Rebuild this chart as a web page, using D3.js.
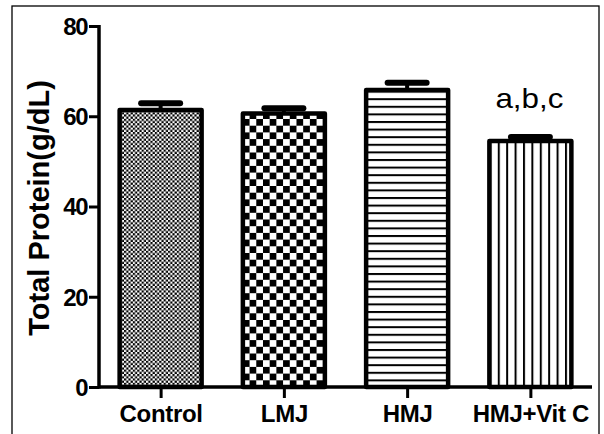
<!DOCTYPE html>
<html>
<head>
<meta charset="utf-8">
<script src="https://cdn.jsdelivr.net/npm/d3@7"></script>
<style>
  html, body { margin: 0; padding: 0; background: #fff; }
  svg { display: block; }
  text { font-family: "Liberation Sans", Arial, sans-serif; }
</style>
</head>
<body>
<svg id="chart" width="604" height="434"></svg>
<script>
const categories = ["Control", "LMJ", "HMJ", "HMJ+Vit C"];
const means = [61.4, 60.6, 65.8, 54.5];
const errors = [1.5, 1.2, 1.6, 0.9];
const annotations = ["", "", "", "a,b,c"];
const yTicks = [0, 20, 40, 60, 80];
const patterns = ["fineChecker", "bigChecker", "hLines", "vLines"];

const svg = d3.select("#chart");

// frame
svg.append("rect").attr("x", 12).attr("y", 6).attr("width", 587).attr("height", 440)
  .attr("fill", "none").attr("stroke", "#000").attr("stroke-width", 1.3);

const y = d3.scaleLinear().domain([0, 80]).range([387, 26]);
const x = d3.scalePoint().domain(categories).range([99, 592]).padding(0.5);
const barW = 82;

const defs = svg.append("defs");
function checker(id, s, x0, y0) {
  const p = defs.append("pattern").attr("id", id).attr("patternUnits", "userSpaceOnUse")
    .attr("width", 2 * s).attr("height", 2 * s).attr("x", x0).attr("y", y0);
  p.append("rect").attr("width", 2 * s).attr("height", 2 * s).attr("fill", "#fff");
  p.append("rect").attr("width", s).attr("height", s).attr("fill", "#000");
  p.append("rect").attr("x", s).attr("y", s).attr("width", s).attr("height", s).attr("fill", "#000");
}
checker("fineChecker", 2.2, x("Control") - barW / 2, 0);
checker("bigChecker", 6.7, x("LMJ") - barW / 2, y(0));
{
  const p = defs.append("pattern").attr("id", "hLines").attr("patternUnits", "userSpaceOnUse")
    .attr("width", 10).attr("height", 7.6).attr("x", 0).attr("y", y(0));
  p.append("rect").attr("width", 10).attr("height", 7.6).attr("fill", "#fff");
  p.append("rect").attr("y", 0).attr("width", 10).attr("height", 2).attr("fill", "#000");
}
{
  const p = defs.append("pattern").attr("id", "vLines").attr("patternUnits", "userSpaceOnUse")
    .attr("width", 8.4).attr("height", 10).attr("x", x("HMJ+Vit C") - barW / 2).attr("y", 0);
  p.append("rect").attr("width", 8.4).attr("height", 10).attr("fill", "#fff");
  p.append("rect").attr("x", 0).attr("width", 2).attr("height", 10).attr("fill", "#000");
}

const g = svg.append("g");

// error bars (behind bars)
categories.forEach((c, i) => {
  const cx = x(c);
  g.append("line").attr("x1", cx).attr("x2", cx)
    .attr("y1", y(means[i])).attr("y2", y(means[i] + errors[i]))
    .attr("stroke", "#000").attr("stroke-width", 4);
  g.append("line").attr("x1", cx - 19.5).attr("x2", cx + 19.5)
    .attr("y1", y(means[i] + errors[i])).attr("y2", y(means[i] + errors[i]))
    .attr("stroke", "#000").attr("stroke-width", 6).attr("stroke-linecap", "round");
});

// bars
g.selectAll("rect.bar").data(categories).enter().append("rect")
  .attr("class", "bar")
  .attr("x", d => x(d) - barW / 2)
  .attr("width", barW)
  .attr("y", (d, i) => y(means[i]))
  .attr("height", (d, i) => y(0) - y(means[i]))
  .attr("fill", (d, i) => `url(#${patterns[i]})`)
  .attr("stroke", "#000").attr("stroke-width", 4.5).attr("stroke-linejoin", "round");

// annotations
categories.forEach((c, i) => {
  if (!annotations[i]) return;
  g.append("text").attr("x", x(c) - 1).attr("y", 108).attr("text-anchor", "middle")
    .attr("font-size", 28).attr("textLength", 68).attr("lengthAdjust", "spacingAndGlyphs")
    .attr("fill", "#000").text(annotations[i]);
});

// y axis
const yAxis = svg.append("g").attr("transform", "translate(99,0)")
  .call(d3.axisLeft(y).tickValues(yTicks).tickSize(10).tickPadding(2).tickFormat(d3.format("d")));
yAxis.select(".domain").attr("stroke", "#000").attr("stroke-width", 3.5)
  .attr("d", `M0,${y(80) - 1}V${y(0) + 1.5}`);
yAxis.selectAll(".tick line").attr("stroke", "#000").attr("stroke-width", 3);
yAxis.selectAll(".tick text").attr("font-size", 24).attr("font-weight", "bold")
  .attr("fill", "#000").attr("letter-spacing", -1.5).attr("dy", "0.35em")
  .attr("font-family", "'Liberation Sans', Arial, sans-serif");

// x axis
const xAxis = svg.append("g").attr("transform", `translate(0,${y(0)})`)
  .call(d3.axisBottom(x).tickSize(11).tickPadding(7));
xAxis.select(".domain").attr("stroke", "#000").attr("stroke-width", 3.5)
  .attr("d", "M99,0H592");
xAxis.selectAll(".tick line").attr("stroke", "#000").attr("stroke-width", 3);
xAxis.selectAll(".tick text").attr("font-size", 24).attr("font-weight", "bold")
  .attr("fill", "#000").attr("letter-spacing", -0.3)
  .attr("font-family", "'Liberation Sans', Arial, sans-serif");

// y label
svg.append("text").attr("transform", "translate(49,208) rotate(-90)")
  .attr("text-anchor", "middle").attr("font-size", 29).attr("font-weight", "bold")
  .attr("fill", "#000").text("Total Protein(g/dL)");
</script>
</body>
</html>
